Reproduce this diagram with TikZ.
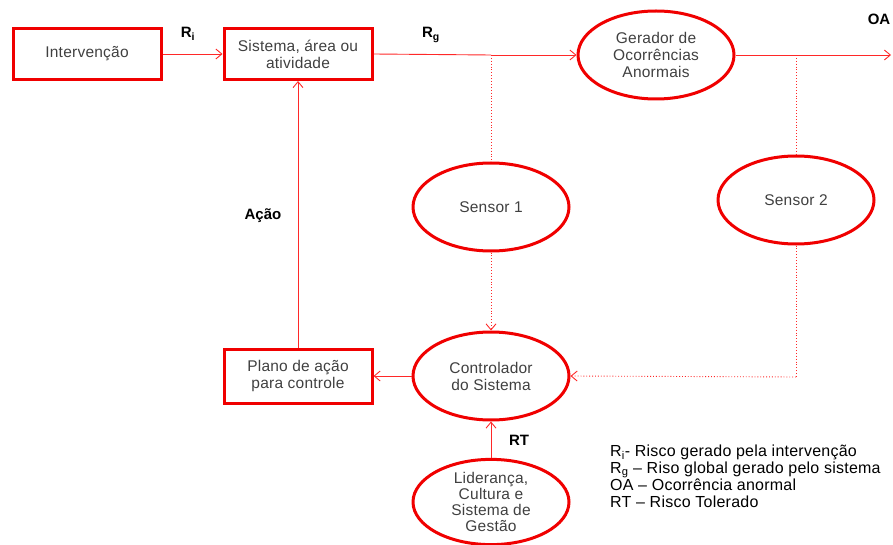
\documentclass[tikz,border=0pt]{standalone}
\usepackage{fontspec}
\setmainfont{Liberation Sans}
\newfontfamily\spacedfont[LetterSpace=1.5]{Liberation Sans}
\usetikzlibrary{shapes.geometric,arrows.meta}
\definecolor{linered}{RGB}{255,40,40}
\definecolor{boxred}{RGB}{240,0,0}
\definecolor{txt}{RGB}{64,64,64}
\begin{document}
\begin{tikzpicture}[x=1pt,y=-1pt,
  font=\spacedfont\fontsize{15.5}{17}\selectfont,
  boxnode/.style={draw=boxred,line width=3pt,minimum width=148pt,minimum height=51pt,text=txt,align=center,inner sep=2pt},
  ellnode/.style={ellipse,draw=boxred,line width=3pt,minimum width=156pt,minimum height=88pt,text=txt,align=center,inner sep=0pt},
  flow/.style={draw=linered,line width=0.9pt,-{Straight Barb[length=6pt,width=10pt,line width=0.9pt]}},
  plain/.style={draw=linered,line width=0.9pt},
  dotflow/.style={draw=linered,line width=0.9pt,dotted,-{Straight Barb[length=6pt,width=10pt,line width=0.9pt]}},
  dotline/.style={draw=linered,line width=0.9pt,dotted},
  lbl/.style={font=\fontsize{15}{17}\selectfont\bfseries,text=black}
]
\useasboundingbox (0,0) rectangle (893,545);

% blocks
\node[boxnode] (int) at (87,54) {Intervenção};
\node[boxnode] (sis) at (298,54) {Sistema, área ou\\atividade};
\node[ellnode] (ger) at (656,55) {Gerador de\\Ocorrências\\Anormais};
\node[ellnode] (s1) at (491,207) {Sensor 1};
\node[ellnode] (s2) at (796,200) {Sensor 2};
\node[ellnode] (ctl) at (491,376) {Controlador\\do Sistema};
\node[boxnode,minimum height=54pt] (pla) at (298,376) {Plano de ação\\para controle};
\node[ellnode,minimum height=82pt,font=\spacedfont\fontsize{15.5}{16.3}\selectfont] (lid) at (491,502) {Liderança,\\Cultura e\\Sistema de\\Gestão};

% tap points and free end
\coordinate (t1) at (491,55);
\coordinate (t2) at (796,55);
\coordinate (c2) at (796,377);
\coordinate (oa) at (891,55);

% main flow
\draw[flow] (int.east) -- (sis.west);
\draw[plain] (sis.east) -- (t1);
\draw[flow] (t1) -- (ger.west);
\draw[plain] (ger.east) -- (t2);
\draw[flow] (t2) -- (oa);

% sensor branches
\draw[dotline] (t1) -- (s1.north);
\draw[dotflow] (s1.south) -- (ctl.north);
\draw[dotline] (t2) -- (s2.north);
\draw[dotline] (s2.south) -- (c2);
\draw[dotflow] (c2) -- (ctl.east);

% control loop
\draw[flow] (ctl.west) -- (pla.east);
\draw[flow] (pla.north) -- (sis.south);
\draw[flow] (lid.north) -- (ctl.south);

% labels
\node[lbl] (ri) at (188,34) {R\textsubscript{i}};
\node[lbl] (rg) at (431,35) {R\textsubscript{g}};
\node[lbl] (oal) at (879,19) {OA};
\node[lbl] (acao) at (263,216) {Ação};
\node[lbl] (rt) at (519,440) {RT};

% legend
\node[anchor=north west,align=left,text=black,inner sep=0pt,font=\spacedfont\fontsize{16}{16.5}\selectfont] (leg) at (610,445)
  {R\textsubscript{i}- Risco gerado pela intervenção\\
   R\textsubscript{g} – Riso global gerado pelo sistema\\
   OA – Ocorrência anormal\\
   RT – Risco Tolerado};
\end{tikzpicture}
\end{document}
